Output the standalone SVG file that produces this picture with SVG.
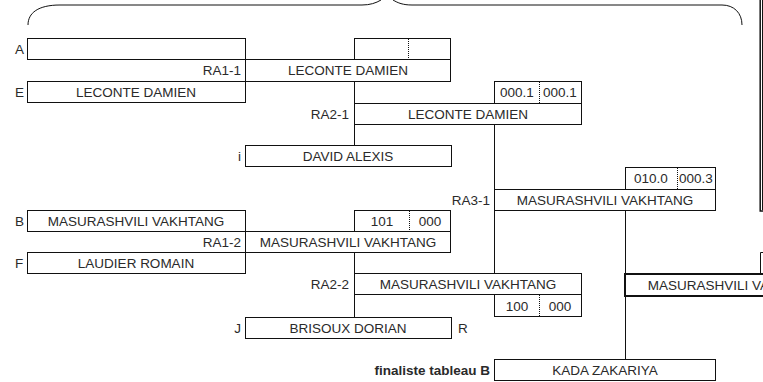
<svg xmlns="http://www.w3.org/2000/svg" width="763" height="382" viewBox="0 0 763 382">
<style>
  .b{fill:#fff;stroke:#111;stroke-width:1}
  .bt{fill:#fff;stroke:#111;stroke-width:2}
  .ln{fill:none;stroke:#111;stroke-width:1}
  .dv{fill:none;stroke:#111;stroke-width:1;stroke-dasharray:1,1}
  text{font-family:"Liberation Sans",Arial,Helvetica,sans-serif;font-size:13.5px;fill:#2a2a2a}
  .c{text-anchor:middle}
  .e{text-anchor:end}
  .bold{font-weight:bold}
</style>
<rect width="763" height="382" fill="#fff"/>
<g id="brace">
  <path class="ln" d="M28,25 C28,13 38,5 60,5 L362,5 C370,5 376,3 381,0"/>
  <path class="ln" d="M393,0 C398,3 403,5 412,5 L722,5 C734,5 742,13 742,25"/>
</g>
<g id="frame-right">
  <path fill="none" stroke="#111" stroke-width="1.5" d="M760.2,0 V211 H763"/>
  <path class="ln" d="M762.5,0 V210"/>
  <path class="ln" d="M760.5,273 V252.5 H763"/>
</g>
<g id="connectors">
  <path class="ln" d="M354.5,81.5 V103.5 M354.5,124.5 V145.5"/>
  <path class="ln" d="M494.5,124.5 V189.5 M494.5,210.5 V273.5"/>
  <path class="ln" d="M354.5,252.5 V273.5 M354.5,294.5 V317.5"/>
  <path class="ln" d="M625.5,210.5 V359.5"/>
</g>
<g id="node-A">
  <rect class="b" x="27.5" y="38.5" width="218" height="21"/>
  <text x="15" y="54">A</text>
</g>
<g id="node-E">
  <rect class="b" x="27.5" y="81.5" width="218" height="21"/>
  <text x="15" y="97">E</text>
  <text class="c" x="136" y="97">LECONTE DAMIEN</text>
</g>
<g id="node-RA1-1">
  <rect class="b" x="354.5" y="38.5" width="96" height="21"/>
  <line class="dv" x1="408.5" y1="39" x2="408.5" y2="59"/>
  <rect class="b" x="245.5" y="59.5" width="205" height="22"/>
  <text class="c" x="348" y="75">LECONTE DAMIEN</text>
  <text class="e" x="241" y="75">RA1-1</text>
</g>
<g id="node-RA2-1">
  <rect class="b" x="494.5" y="81.5" width="87" height="22"/>
  <line class="dv" x1="539.5" y1="82" x2="539.5" y2="103"/>
  <text class="c" x="517" y="97">000.1</text>
  <text class="c" x="560" y="97">000.1</text>
  <rect class="b" x="354.5" y="103.5" width="227" height="21"/>
  <text class="c" x="468" y="119">LECONTE DAMIEN</text>
  <text class="e" x="349" y="119">RA2-1</text>
</g>
<g id="node-i">
  <rect class="b" x="245.5" y="145.5" width="206" height="21"/>
  <text class="c" x="348" y="161">DAVID ALEXIS</text>
  <text class="e" x="241" y="161">i</text>
</g>
<g id="node-RA3-1">
  <rect class="b" x="625.5" y="167.5" width="90" height="22"/>
  <line class="dv" x1="677.5" y1="168" x2="677.5" y2="189"/>
  <text class="c" x="651" y="183">010.0</text>
  <text class="c" x="696" y="183">000.3</text>
  <rect class="b" x="494.5" y="189.5" width="221" height="21"/>
  <text class="c" x="605" y="205">MASURASHVILI VAKHTANG</text>
  <text class="e" x="490" y="205">RA3-1</text>
</g>
<g id="node-B">
  <rect class="b" x="27.5" y="210.5" width="218" height="21"/>
  <text x="15" y="226">B</text>
  <text class="c" x="136" y="226">MASURASHVILI VAKHTANG</text>
</g>
<g id="node-RA1-2">
  <rect class="b" x="354.5" y="210.5" width="96" height="21"/>
  <line class="dv" x1="409.5" y1="211" x2="409.5" y2="231"/>
  <text class="c" x="382" y="226">101</text>
  <text class="c" x="430" y="226">000</text>
  <rect class="b" x="245.5" y="231.5" width="205" height="21"/>
  <text class="c" x="348" y="247">MASURASHVILI VAKHTANG</text>
  <text class="e" x="241" y="247">RA1-2</text>
</g>
<g id="node-F">
  <rect class="b" x="27.5" y="252.5" width="218" height="21"/>
  <text x="15" y="268">F</text>
  <text class="c" x="136" y="268">LAUDIER ROMAIN</text>
</g>
<g id="node-RA2-2">
  <rect class="b" x="354.5" y="273.5" width="227" height="21"/>
  <text class="c" x="468" y="289">MASURASHVILI VAKHTANG</text>
  <text class="e" x="349" y="289">RA2-2</text>
  <rect class="b" x="494.5" y="294.5" width="87" height="22"/>
  <line class="dv" x1="539.5" y1="295" x2="539.5" y2="316"/>
  <text class="c" x="517" y="311">100</text>
  <text class="c" x="560" y="311">000</text>
</g>
<g id="node-J">
  <rect class="b" x="245.5" y="317.5" width="206" height="21"/>
  <text class="c" x="348" y="333">BRISOUX DORIAN</text>
  <text class="e" x="241" y="333">J</text>
  <text x="458" y="333">R</text>
</g>
<g id="node-final">
  <rect class="b" x="494.5" y="359.5" width="221" height="21"/>
  <text class="c" x="605" y="375">KADA ZAKARIYA</text>
  <text class="e bold" x="490" y="375">finaliste tableau B</text>
</g>
<g id="node-winner">
  <rect class="bt" x="625" y="274" width="224" height="22"/>
  <text class="c" x="736" y="290">MASURASHVILI VAKHTANG</text>
</g>
</svg>
